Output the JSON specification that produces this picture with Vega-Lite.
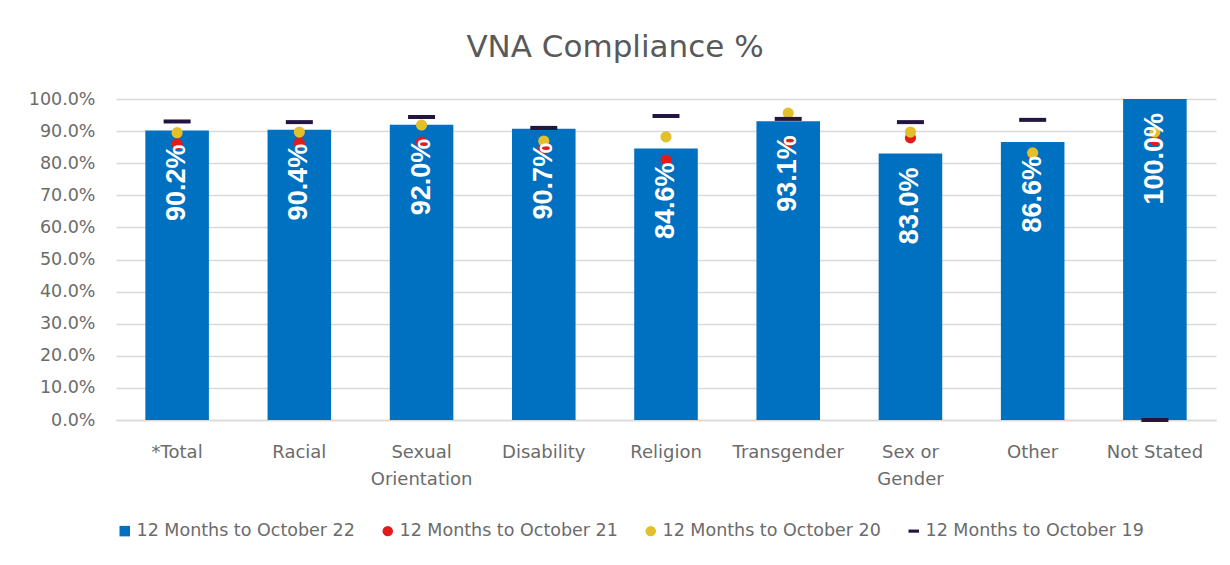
{
  "$schema": "https://vega.github.io/schema/vega-lite/v6.json",
  "autosize": {"type": "none"},
  "width": 1100,
  "height": 321,
  "padding": {"left": 116, "top": 99, "right": 14, "bottom": 145},
  "background": "white",
  "title": {
    "text": "VNA Compliance %",
    "font": "DejaVu Sans",
    "fontSize": 31,
    "fontWeight": "normal",
    "color": "#595959",
    "anchor": "middle",
    "dx": -51,
    "baseline": "alphabetic",
    "offset": 2
  },
  "data": {
    "values": [
      {"cat": "*Total", "series": "12 Months to October 22", "v": 90.2},
      {"cat": "Racial", "series": "12 Months to October 22", "v": 90.4},
      {"cat": "Sexual Orientation", "series": "12 Months to October 22", "v": 92.0},
      {"cat": "Disability", "series": "12 Months to October 22", "v": 90.7},
      {"cat": "Religion", "series": "12 Months to October 22", "v": 84.6},
      {"cat": "Transgender", "series": "12 Months to October 22", "v": 93.1},
      {"cat": "Sex or Gender", "series": "12 Months to October 22", "v": 83.0},
      {"cat": "Other", "series": "12 Months to October 22", "v": 86.6},
      {"cat": "Not Stated", "series": "12 Months to October 22", "v": 100.0},
      {"cat": "*Total", "series": "12 Months to October 21", "v": 86.0},
      {"cat": "Racial", "series": "12 Months to October 21", "v": 86.3},
      {"cat": "Sexual Orientation", "series": "12 Months to October 21", "v": 86.6},
      {"cat": "Disability", "series": "12 Months to October 21", "v": 84.7},
      {"cat": "Religion", "series": "12 Months to October 21", "v": 81.0},
      {"cat": "Transgender", "series": "12 Months to October 21", "v": 86.5},
      {"cat": "Sex or Gender", "series": "12 Months to October 21", "v": 87.9},
      {"cat": "Other", "series": "12 Months to October 21", "v": 82.8},
      {"cat": "Not Stated", "series": "12 Months to October 21", "v": 87.2},
      {"cat": "*Total", "series": "12 Months to October 20", "v": 89.5},
      {"cat": "Racial", "series": "12 Months to October 20", "v": 89.7},
      {"cat": "Sexual Orientation", "series": "12 Months to October 20", "v": 91.9},
      {"cat": "Disability", "series": "12 Months to October 20", "v": 86.9},
      {"cat": "Religion", "series": "12 Months to October 20", "v": 88.2},
      {"cat": "Transgender", "series": "12 Months to October 20", "v": 95.6},
      {"cat": "Sex or Gender", "series": "12 Months to October 20", "v": 89.7},
      {"cat": "Other", "series": "12 Months to October 20", "v": 83.2},
      {"cat": "Not Stated", "series": "12 Months to October 20", "v": 89.7},
      {"cat": "*Total", "series": "12 Months to October 19", "v": 93.0},
      {"cat": "Racial", "series": "12 Months to October 19", "v": 92.8},
      {"cat": "Sexual Orientation", "series": "12 Months to October 19", "v": 94.4},
      {"cat": "Disability", "series": "12 Months to October 19", "v": 91.0},
      {"cat": "Religion", "series": "12 Months to October 19", "v": 94.7},
      {"cat": "Transgender", "series": "12 Months to October 19", "v": 93.8},
      {"cat": "Sex or Gender", "series": "12 Months to October 19", "v": 92.8},
      {"cat": "Other", "series": "12 Months to October 19", "v": 93.5},
      {"cat": "Not Stated", "series": "12 Months to October 19", "v": 0.0}
    ]
  },
  "encoding": {
    "x": {
      "field": "cat",
      "type": "nominal",
      "sort": null,
      "scale": {"paddingInner": 0.48, "paddingOuter": 0.24},
      "axis": {
        "title": null,
        "labelAngle": 0,
        "labelFont": "DejaVu Sans",
        "labelFontSize": 18,
        "labelColor": "#6b6b6b",
        "labelPadding": 23,
        "labelLineHeight": 27,
        "labelBaseline": "top",
        "ticks": false,
        "domainColor": "#D9D9D9",
        "domainWidth": 1.5,
        "grid": false,
        "labelExpr": "datum.value == 'Sexual Orientation' ? ['Sexual', 'Orientation'] : datum.value == 'Sex or Gender' ? ['Sex or', 'Gender'] : datum.value"
      }
    },
    "y": {
      "field": "v",
      "type": "quantitative",
      "scale": {"domain": [0, 100], "nice": false},
      "axis": {
        "title": null,
        "values": [0, 10, 20, 30, 40, 50, 60, 70, 80, 90, 100],
        "labelExpr": "format(datum.value / 100, '.1%')",
        "labelFont": "DejaVu Sans",
        "labelFontSize": 17.5,
        "labelColor": "#6b6b6b",
        "labelPadding": 21,
        "ticks": false,
        "domain": false,
        "grid": true,
        "gridColor": "#D9D9D9",
        "gridWidth": 1.5
      }
    },
    "color": {
      "field": "series", "type": "nominal", "sort": null,
      "scale": {"domain": ["12 Months to October 22", "12 Months to October 21", "12 Months to October 20", "12 Months to October 19"],
                "range": ["#0070C0", "#E31B1B", "#E2C02C", "#241440"]},
      "legend": {
        "title": null,
        "orient": "bottom",
        "direction": "horizontal",
        "offset": 34,
        "labelFont": "DejaVu Sans",
        "labelFontSize": 17.5,
        "labelColor": "#6b6b6b",
        "symbolSize": 110,
        "symbolStrokeWidth": 0,
        "columnPadding": 24,
        "labelOffset": 3,
        "labelLimit": 400
      }
    },
    "shape": {
      "field": "series", "type": "nominal", "sort": null,
      "scale": {"domain": ["12 Months to October 22", "12 Months to October 21", "12 Months to October 20", "12 Months to October 19"],
                "range": ["square", "circle", "circle", "M-1,-0.3H1V0.3H-1Z"]},
      "legend": {
        "title": null,
        "orient": "bottom",
        "direction": "horizontal",
        "offset": 34,
        "labelFont": "DejaVu Sans",
        "labelFontSize": 17.5,
        "labelColor": "#6b6b6b",
        "symbolSize": 110,
        "symbolStrokeWidth": 0,
        "columnPadding": 24,
        "labelOffset": 3,
        "labelLimit": 400
      }
    }
  },
  "layer": [
    {
      "transform": [{"filter": "datum.series == '12 Months to October 22'"}],
      "mark": {"type": "bar", "opacity": 1}
    },
    {
      "transform": [{"filter": "datum.series == '12 Months to October 21' || datum.series == '12 Months to October 20'"}],
      "mark": {"type": "point", "filled": true, "opacity": 1, "size": 125}
    },
    {
      "transform": [{"filter": "datum.series == '12 Months to October 19'"}],
      "mark": {"type": "tick", "thickness": 4, "size": 27, "opacity": 1}
    },
    {
      "transform": [{"filter": "datum.series == '12 Months to October 22'"}],
      "mark": {"type": "text", "angle": 270, "align": "right", "baseline": "middle", "dx": -14,
               "font": "Liberation Sans", "fontWeight": "bold", "fontSize": 27,
               "text": {"expr": "format(datum.v, '.1f') + '%'"}},
      "encoding": {
        "color": {"value": "white"}
      }
    }
  ],
  "config": {
    "view": {"stroke": null}
  }
}
